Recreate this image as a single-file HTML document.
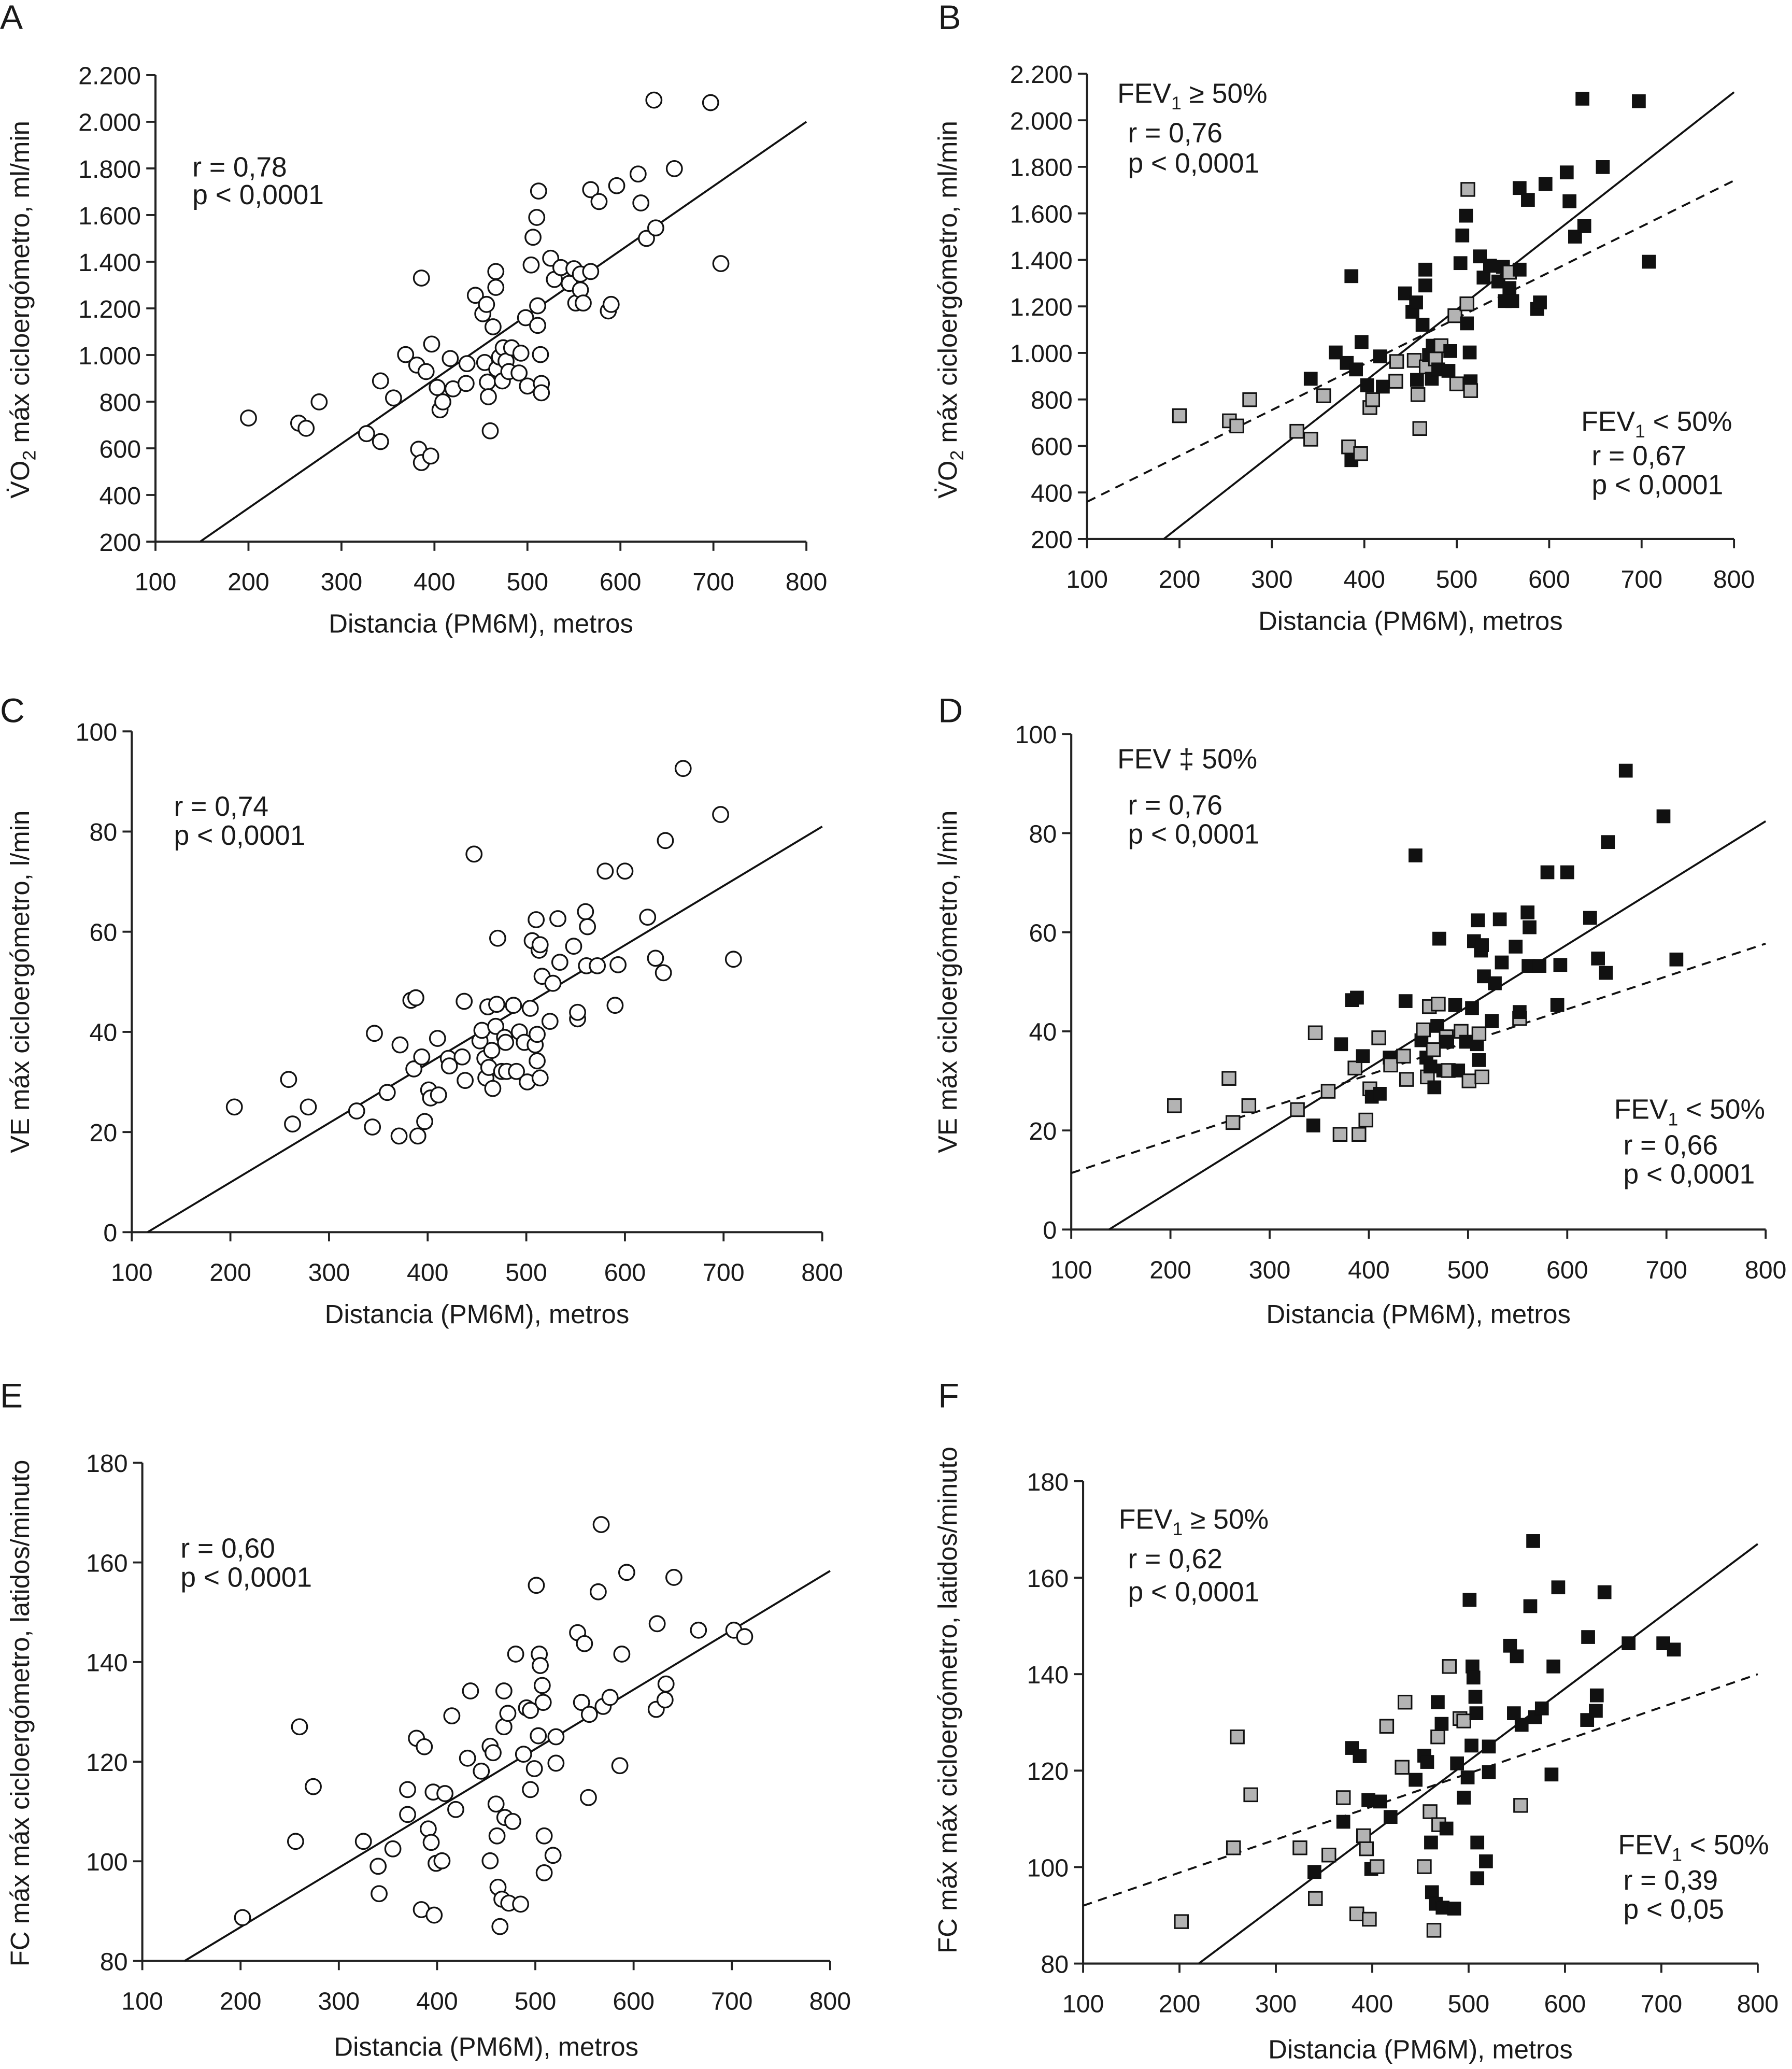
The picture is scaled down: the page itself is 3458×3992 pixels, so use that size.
<!DOCTYPE html>
<html><head><meta charset="utf-8">
<style>
html,body{margin:0;padding:0;background:#fff;}
svg{display:block;font-family:"Liberation Sans",Arial,sans-serif;}
</style></head>
<body>
<svg id="fig" xmlns="http://www.w3.org/2000/svg" width="3458" height="3992" viewBox="0 0 1360 1570" preserveAspectRatio="none"></svg>
<script>
// Panel A / B data (VO2 max vs distance)
const aX=[200,254,262,276,327,342,342,356,369,381,383,386,386,391,396,397,403,406,409,417,420,434,435,444,452,456,454,457,458,460,463,466,466,467,470,473,474,477,480,483,491,493,498,500,504,506,510,511,511,512,514,515,515,525,529,536,545,550,552,557,557,560,568,568,577,587,590,596,619,622,628,638,636,658,697,708];
const aY=[730,708,686,799,663,889,629,816,1002,957,596,1330,539,929,567,1047,861,765,799,985,855,878,963,1256,1177,1217,968,884,821,675,1121,1358,1290,940,991,889,1031,974,929,1031,923,1008,1160,867,1386,1505,1590,1127,1211,1703,1002,878,838,1415,1324,1375,1307,1370,1223,1279,1347,1223,1709,1358,1658,1189,1217,1726,1776,1652,1500,1545,2093,1799,2082,1392];
// Panel C / D data (VE max)
const cX=[204,259,263,279,328,344,346,359,371,372,383,386,388,390,394,397,401,403,410,411,421,422,435,437,438,447,453,455,458,459,461,462,465,466,469,470,471,475,478,479,480,487,490,493,498,501,504,506,509,510,511,511,513,514,514,516,524,527,532,534,548,552,552,560,561,562,572,580,590,593,600,623,631,639,641,659,697,710];
const cY=[25,30.5,21.6,25,24.2,21,39.7,27.9,19.2,37.4,46.3,32.6,46.8,19.2,35,22.1,28.4,26.8,38.7,27.4,34.7,33.2,35,46.1,30.3,75.5,38.2,40.3,34.7,30.8,45,32.9,36.3,28.7,41.1,45.5,58.7,32.1,38.9,37.9,32.1,45.3,32.1,40,37.9,30,44.7,58.2,37.4,62.4,39.5,34.2,56.3,30.8,57.4,51.1,42.1,49.7,62.6,53.9,57.1,42.6,43.9,64,53.2,61,53.2,72.1,45.3,53.4,72.1,62.9,54.7,51.8,78.2,92.6,83.4,54.5];
// Panel E / F data (HR max)
const eX=[202,256,260,274,325,340,341,355,370,370,379,384,387,391,394,396,397,399,405,408,415,419,431,434,445,454,454,457,460,461,462,464,466,468,468,469,472,473,477,480,485,488,491,495,495,499,501,503,504,505,507,508,509,509,518,521,521,543,547,550,554,555,564,567,569,576,586,588,593,623,624,632,633,641,666,702,713];
const eY=[88.7,104,127,115,104,99,93.5,102.5,114.4,109.4,124.7,90.3,123,106.5,103.8,113.9,89.2,99.6,100.1,113.6,129.2,110.4,120.7,134.2,118.1,123.1,100.1,121.8,111.5,105.1,94.8,86.9,92.4,127,134.2,108.8,129.7,91.6,108,141.6,91.4,121.5,130.8,114.4,130.3,118.6,155.4,125.2,141.6,139.3,135.3,131.9,97.7,105.1,101.2,125,119.7,145.9,131.9,143.7,112.8,129.5,154.1,167.6,131.1,132.9,119.2,141.6,158,130.5,147.7,132.4,135.6,157,146.4,146.4,145.1];
// group flags (1 = FEV1 < 50%, grey)
const bGrey=[1,1,1,1,1,0,1,1,0,0,1,0,0,0,1,0,0,1,1,0,0,1,1,0,0,0,1,0,1,1,0,0,0,1,0,0,0,1,0,1,0,0,1,1,0,0,0,0,1,1,0,0,1,0,0,0,0,0,0,0,1];
const dGrey=[1,1,1,1,1,0,1,1,1,0,0,1,0,1,0,1,1,0,1,0,0,1,1,0,1,0,0,1,0,1,1,0,1,0,0,1,0,0,1,0,1,0,0,1,0,1,0,0,0,0,1,0,0,1,0,0,0,0,0,0,0,1];
const fGrey=[1,1,1,1,1,0,1,1,1,0,0,1,0,1,1,0,1,0,1,0,1,0,1,1,0,0,1,0,1,0,0,1,0,1,0,1,0,0,0,1,0,0,1,0,1,0,0,0,0,0,0,0,0,0,0,0,0,0,0,0,1];
const xTicks=[100,200,300,400,500,600,700,800];
const vo2Ticks=[200,400,600,800,1000,1200,1400,1600,1800,2000,2200];
const vo2Labels=["200","400","600","800","1.000","1.200","1.400","1.600","1.800","2.000","2.200"];
const veTicks=[0,20,40,60,80,100];
const hrTicks=[80,100,120,140,160,180];
// regression lines [x0,y0,x1,y1] in data units
const lineA=[148,200,800,2000];
const lineBsolid=[183,200,800,2121], lineBdash=[100,360,800,1741];
const lineC=[116,0,800,81];
const lineDsolid=[138,0,800,82.4], lineDdash=[100,11.4,800,57.7];
const lineE=[143,80,800,158.3];
const lineFsolid=[220,80,800,167], lineFdash=[100,92,800,140];

const NS="http://www.w3.org/2000/svg";
const svg=document.getElementById('fig');
function mk(tag,attrs,parent){const e=document.createElementNS(NS,tag);for(const k in attrs)e.setAttribute(k,attrs[k]);(parent||svg).appendChild(e);return e;}
function txt(s,x,y,size,anchor,parent){const t=mk('text',{x:x,y:y,'font-size':size,'text-anchor':anchor||'start',fill:'#1a1a1a'},parent);t.textContent=s;return t;}

function panel(p){
  const g=mk('g',{});
  
  
  const sx=v=>p.x0+(v-p.xmin)/(p.xmax-p.xmin)*(p.x1-p.x0);
  const sy=v=>p.y0-(v-p.ymin)/(p.ymax-p.ymin)*(p.y0-p.y1);
  const ax=mk('path',{d:`M${p.x0},${p.y1}V${p.y0}H${p.x1}`,stroke:'#222','stroke-width':1.6,fill:'none'},g);
  
  
  xTicks.forEach(v=>{mk('line',{x1:sx(v),x2:sx(v),y1:p.y0,y2:p.y0+7,stroke:'#222','stroke-width':1.5},g);
    const t=txt(String(v),sx(v),p.y0+37,19,'middle',g);
    
    });
  p.yt.forEach((v,i)=>{mk('line',{x1:p.x0-7,x2:p.x0,y1:sy(v),y2:sy(v),stroke:'#222','stroke-width':1.5},g);
    const t=txt(p.yl?p.yl[i]:String(v),p.x0-11,sy(v)+7,19,'end',g);
    
    });
  const xt=txt('Distancia (PM6M), metros',(p.x0+p.x1)/2,p.xtY,20,'middle',g);
  
  
  const yt=mk('text',{x:0,y:0,'font-size':20,'text-anchor':'middle',fill:'#1a1a1a',transform:`translate(${p.ytX},${p.ytY}) rotate(-90)`},g);
  
  
  if(p.vo2){yt.innerHTML='V\u0307O<tspan font-size="14" dy="5">2</tspan><tspan dy="-5"> máx cicloergómetro, ml/min</tspan>';}
  else yt.textContent=p.ytitle;
  const L=txt(p.letter,p.lx,p.ly,26,'start',g);
  
  
  const drawLine=(l,dash)=>{const e=mk('line',{x1:sx(l[0]),y1:sy(l[1]),x2:sx(l[2]),y2:sy(l[3]),stroke:'#111','stroke-width':1.5},g);
    if(dash)e.setAttribute('stroke-dasharray','7,5');
    
    };
  drawLine(p.line,false); if(p.dash)drawLine(p.dash,true);
  p.X.forEach((xv,i)=>{const cx=sx(xv),cy=sy(p.Y[i]);let m;
    if(!p.grey){m=mk('circle',{cx:cx,cy:cy,r:5.8,fill:'#fff',stroke:'#111','stroke-width':1.3},g);}
    else{const gr=p.grey[i]===1;m=mk('rect',{x:cx-5,y:cy-5,width:10,height:10,fill:gr?'#b3b3b3':'#111',stroke:'#111','stroke-width':gr?1.2:0.5},g);}
    
    });
  p.notes.forEach(n=>{const t=mk('text',{x:n[1],y:n[2],'font-size':21,fill:'#1a1a1a'},g);
    
    
    t.innerHTML=n[0];});
}
const ge='FEV<tspan font-size="14" dy="5">1</tspan><tspan dy="-5"> ≥ 50%</tspan>';
const lt='FEV<tspan font-size="14" dy="5">1</tspan><tspan dy="-5"> &lt; 50%</tspan>';
panel({name:'panel-a',letter:'A',lx:0,ly:22,x0:118,x1:612,y0:411,y1:57,xmin:100,xmax:800,ymin:200,ymax:2200,yt:vo2Ticks,yl:vo2Labels,vo2:true,ytX:22,ytY:235,xtY:480,X:aX,Y:aY,line:lineA,
  notes:[['r = 0,78',146,134],['p &lt; 0,0001',146,147+8]]});
panel({name:'panel-b',letter:'B',lx:712,ly:22,x0:825,x1:1316,y0:409,y1:56,xmin:100,xmax:800,ymin:200,ymax:2200,yt:vo2Ticks,yl:vo2Labels,vo2:true,ytX:726,ytY:235,xtY:478,X:aX,Y:aY,grey:bGrey,line:lineBsolid,dash:lineBdash,
  notes:[[ge,848,78],['r = 0,76',856,108],['p &lt; 0,0001',856,131],[lt,1200,327],['r = 0,67',1208,353],['p &lt; 0,0001',1208,375]]});
panel({name:'panel-c',letter:'C',lx:0,ly:548,x0:100,x1:624,y0:935,y1:555,xmin:100,xmax:800,ymin:0,ymax:100,yt:veTicks,ytitle:'VE máx cicloergómetro, l/min',ytX:22,ytY:745,xtY:1004,X:cX,Y:cY,line:lineC,
  notes:[['r = 0,74',132,619],['p &lt; 0,0001',132,641]]});
panel({name:'panel-d',letter:'D',lx:712,ly:548,x0:813,x1:1340,y0:933,y1:557,xmin:100,xmax:800,ymin:0,ymax:100,yt:veTicks,ytitle:'VE máx cicloergómetro, l/min',ytX:726,ytY:745,xtY:1004,X:cX,Y:cY,grey:dGrey,line:lineDsolid,dash:lineDdash,
  notes:[['FEV ‡ 50%',848,583],['r = 0,76',856,618],['p &lt; 0,0001',856,640],[lt,1225,849],['r = 0,66',1232,876],['p &lt; 0,0001',1232,898]]});
panel({name:'panel-e',letter:'E',lx:0,ly:1068,x0:108,x1:630,y0:1488,y1:1110,xmin:100,xmax:800,ymin:80,ymax:180,yt:hrTicks,ytitle:'FC máx máx cicloergómetro, latidos/minuto',ytX:22,ytY:1300,xtY:1560,X:eX,Y:eY,line:lineE,
  notes:[['r = 0,60',137,1182],['p &lt; 0,0001',137,1204]]});
panel({name:'panel-f',letter:'F',lx:712,ly:1068,x0:822,x1:1334,y0:1490,y1:1124,xmin:100,xmax:800,ymin:80,ymax:180,yt:hrTicks,ytitle:'FC máx máx cicloergómetro, latidos/minuto',ytX:726,ytY:1290,xtY:1562,X:eX,Y:eY,grey:fGrey,line:lineFsolid,dash:lineFdash,
  notes:[[ge,849,1160],['r = 0,62',856,1190],['p &lt; 0,0001',856,1215],[lt,1228,1407],['r = 0,39',1232,1434],['p &lt; 0,05',1232,1456]]});
</script>
</body></html>
